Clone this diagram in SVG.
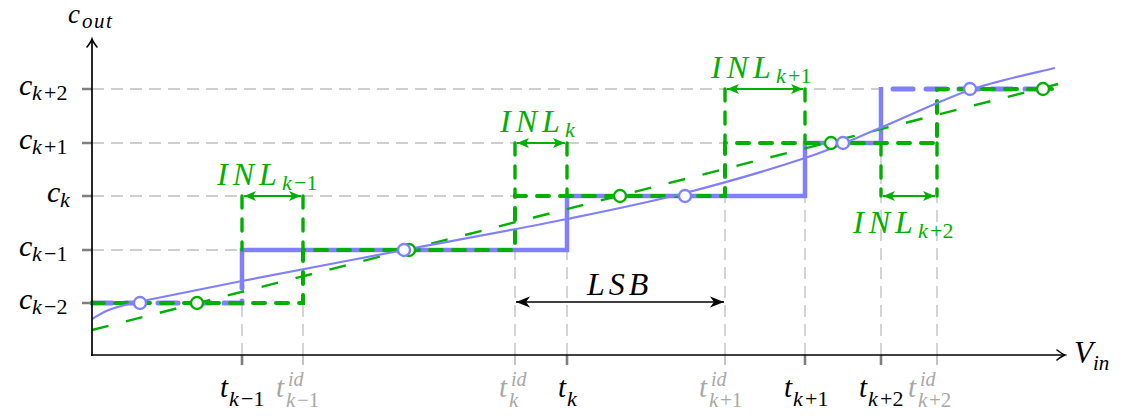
<svg xmlns="http://www.w3.org/2000/svg" width="1121" height="417" viewBox="0 0 1121 417">
<defs>
<marker id="axh" viewBox="-10 -7 12 14" refX="0" refY="0" markerWidth="12" markerHeight="14" orient="auto" markerUnits="userSpaceOnUse">
<path d="M-8,-5 Q-3,-1 0,0 Q-3,1 -8,5" fill="none" stroke="#000" stroke-width="1.6" stroke-linecap="round"/>
</marker>
<marker id="gah" viewBox="-13 -6 14 12" refX="0" refY="0" markerWidth="14" markerHeight="12" orient="auto-start-reverse" markerUnits="userSpaceOnUse">
<path d="M0,0 L-12,-5 L-9,0 L-12,5 Z" fill="#00b000"/>
</marker>
<marker id="kah" viewBox="-15 -7 16 14" refX="0" refY="0" markerWidth="16" markerHeight="14" orient="auto-start-reverse" markerUnits="userSpaceOnUse">
<path d="M0,0 L-14,-5.5 L-10,0 L-14,5.5 Z" fill="#000"/>
</marker>
</defs>
<rect width="1121" height="417" fill="#fff"/>

<g id="grid" stroke="#bfbfbf" stroke-width="1.3" stroke-dasharray="12 7" fill="none">
<path d="M92,89 H880 M92,143 H725 M92,196 H515 M92,250 H242"/>
<path d="M242,355 V303 M303,355 V303 M515,355 V250 M567,355 V250 M725,355 V196 M805,355 V196 M881,355 V143 M937,355 V196"/>
</g>

<g id="ticks">
<path stroke="#808080" stroke-width="2.6" d="M82,89 H92 M82,143 H92 M82,196 H92 M82,250 H92 M82,303 H92"/>
<path stroke="#808080" stroke-width="2.6" d="M242,355 V365 M567,355 V365 M805,355 V365 M881,355 V365"/>
<path stroke="#c4c4c4" stroke-width="2" d="M303,355 V365 M515,355 V365 M725,355 V365 M937,355 V365"/>
</g>

<g id="connectors" fill="none">
<g stroke="#8080ff" stroke-width="5" stroke-dasharray="20 13" stroke-linecap="round">
<path d="M92,303 H242 V286"/>
<path d="M893,89 H1057"/>
</g>
<path stroke="#8080ff" stroke-width="4.5" d="M242,285 V250 H567 V196 H805 V143 H881 V87"/>
<path stroke="#00b000" stroke-width="4" stroke-dasharray="12 11" stroke-linecap="round" d="M92,303 H303 V250 H515 V196 H725 V143 H937 V89 H1052"/>
<path stroke="#00b000" stroke-width="3.4" stroke-dasharray="12 11" stroke-linecap="round" d="M242,196 V250 M303,196 V250 M515,143 V196 M567,143 V196 M725,89 V143 M805,89 V143 M881,143 V196 M937,143 V196"/>
<path stroke="#00b000" stroke-width="2.4" stroke-dasharray="17 18" d="M92,330 L1062,83"/>
<path stroke="#8080ff" stroke-width="2.2" d="M92,319 C95,317.4 102,312.4 110,309.5 C118,306.6 118,306.25 140,301.5 C162,296.75 198,289.6 242,281 C286,272.4 349.8,260.3 404,250 C458.2,239.7 520.2,228.5 567,219 C613.8,209.5 645.3,203.2 685,193 C724.7,182.8 772.5,168.8 805,158 C837.5,147.2 852.5,139.3 880,128 C907.5,116.7 940.8,100 970,90 C999.2,80 1040.8,71.7 1055,68"/>
<g stroke="#00b000" stroke-width="2" marker-start="url(#gah)" marker-end="url(#gah)">
<path d="M244,196 H301"/>
<path d="M517,143 H565"/>
<path d="M727,89 H803"/>
<path d="M883,196 H935"/>
</g>
<path stroke="#000" stroke-width="1.5" d="M516,302 H724" marker-start="url(#kah)" marker-end="url(#kah)"/>
</g>

<g id="points" fill="#fff" stroke-width="2.4">
<g stroke="#00b000">
<circle cx="197" cy="303" r="6"/>
<circle cx="409" cy="250" r="6"/>
<circle cx="620" cy="196" r="6"/>
<circle cx="831" cy="143" r="6"/>
<circle cx="1043" cy="89" r="6"/>
</g>
<g stroke="#8080ff">
<circle cx="140" cy="303" r="6"/>
<circle cx="404" cy="250" r="6"/>
<circle cx="685" cy="196" r="6"/>
<circle cx="843" cy="143" r="6"/>
<circle cx="970" cy="89" r="6"/>
</g>
</g>

<g id="axes" stroke="#000" stroke-width="1.7" fill="none">
<path d="M92,356 V39" marker-end="url(#axh)"/>
<path d="M91,355 H1065" marker-end="url(#axh)"/>
</g>

<text x="68" y="23" font-size="27" font-family="Liberation Serif" font-style="italic">c</text>
<text x="82" y="28" font-size="21" font-family="Liberation Serif" font-style="italic" letter-spacing="1.5">out</text>
<text x="1074" y="363" font-size="31" font-family="Liberation Serif" font-style="italic">V</text>
<text x="1093" y="370" font-size="21" font-family="Liberation Serif" font-style="italic">in</text>

<text x="19" y="95" font-size="30" font-family="Liberation Serif" font-style="italic">c</text>
<text x="32" y="100" font-size="22" font-family="Liberation Serif" font-style="italic">k</text>
<text x="44" y="100" font-size="22" font-family="Liberation Serif">+2</text>
<text x="19" y="149" font-size="30" font-family="Liberation Serif" font-style="italic">c</text>
<text x="32" y="154" font-size="22" font-family="Liberation Serif" font-style="italic">k</text>
<text x="44" y="154" font-size="22" font-family="Liberation Serif">+1</text>
<text x="47" y="202" font-size="30" font-family="Liberation Serif" font-style="italic">c</text>
<text x="60" y="207" font-size="22" font-family="Liberation Serif" font-style="italic">k</text>
<text x="19" y="256" font-size="30" font-family="Liberation Serif" font-style="italic">c</text>
<text x="32" y="261" font-size="22" font-family="Liberation Serif" font-style="italic">k</text>
<text x="44" y="261" font-size="22" font-family="Liberation Serif">−1</text>
<text x="19" y="309" font-size="30" font-family="Liberation Serif" font-style="italic">c</text>
<text x="32" y="314" font-size="22" font-family="Liberation Serif" font-style="italic">k</text>
<text x="44" y="314" font-size="22" font-family="Liberation Serif">−2</text>

<text x="220" y="397" font-size="29" font-family="Liberation Serif" font-style="italic">t</text>
<text x="229" y="406" font-size="22" font-family="Liberation Serif" font-style="italic">k</text>
<text x="241" y="406" font-size="22" font-family="Liberation Serif">−1</text>
<text x="558" y="397" font-size="29" font-family="Liberation Serif" font-style="italic">t</text>
<text x="567" y="406" font-size="22" font-family="Liberation Serif" font-style="italic">k</text>
<text x="784" y="397" font-size="29" font-family="Liberation Serif" font-style="italic">t</text>
<text x="793" y="406" font-size="22" font-family="Liberation Serif" font-style="italic">k</text>
<text x="805" y="406" font-size="22" font-family="Liberation Serif">+1</text>
<text x="859" y="397" font-size="29" font-family="Liberation Serif" font-style="italic">t</text>
<text x="868" y="406" font-size="22" font-family="Liberation Serif" font-style="italic">k</text>
<text x="880" y="406" font-size="22" font-family="Liberation Serif">+2</text>

<text x="276" y="397" fill="#a8a8a8" font-size="29" font-family="Liberation Serif" font-style="italic">t</text>
<text x="288" y="386" fill="#a8a8a8" font-size="20" font-family="Liberation Serif" font-style="italic">id</text>
<text x="286" y="407" fill="#a8a8a8" font-size="21" font-family="Liberation Serif" font-style="italic">k</text>
<text x="297" y="407" fill="#a8a8a8" font-size="21" font-family="Liberation Serif">−1</text>
<text x="499" y="397" fill="#a8a8a8" font-size="29" font-family="Liberation Serif" font-style="italic">t</text>
<text x="511" y="386" fill="#a8a8a8" font-size="20" font-family="Liberation Serif" font-style="italic">id</text>
<text x="509" y="407" fill="#a8a8a8" font-size="21" font-family="Liberation Serif" font-style="italic">k</text>
<text x="699" y="397" fill="#a8a8a8" font-size="29" font-family="Liberation Serif" font-style="italic">t</text>
<text x="711" y="386" fill="#a8a8a8" font-size="20" font-family="Liberation Serif" font-style="italic">id</text>
<text x="709" y="407" fill="#a8a8a8" font-size="21" font-family="Liberation Serif" font-style="italic">k</text>
<text x="720" y="407" fill="#a8a8a8" font-size="21" font-family="Liberation Serif">+1</text>
<text x="908" y="397" fill="#a8a8a8" font-size="29" font-family="Liberation Serif" font-style="italic">t</text>
<text x="920" y="386" fill="#a8a8a8" font-size="20" font-family="Liberation Serif" font-style="italic">id</text>
<text x="918" y="407" fill="#a8a8a8" font-size="21" font-family="Liberation Serif" font-style="italic">k</text>
<text x="929" y="407" fill="#a8a8a8" font-size="21" font-family="Liberation Serif">+2</text>

<text x="217" y="185" fill="#00b000" font-size="32" font-family="Liberation Serif" font-style="italic" letter-spacing="5">INL</text>
<text x="282" y="190" fill="#00b000" font-size="22" font-family="Liberation Serif" font-style="italic">k</text>
<text x="294" y="190" fill="#00b000" font-size="22" font-family="Liberation Serif">−1</text>
<text x="500" y="132" fill="#00b000" font-size="32" font-family="Liberation Serif" font-style="italic" letter-spacing="5">INL</text>
<text x="565" y="137" fill="#00b000" font-size="22" font-family="Liberation Serif" font-style="italic">k</text>
<text x="711" y="78" fill="#00b000" font-size="32" font-family="Liberation Serif" font-style="italic" letter-spacing="5">INL</text>
<text x="776" y="83" fill="#00b000" font-size="22" font-family="Liberation Serif" font-style="italic">k</text>
<text x="788" y="83" fill="#00b000" font-size="22" font-family="Liberation Serif">+1</text>
<text x="853" y="233" fill="#00b000" font-size="32" font-family="Liberation Serif" font-style="italic" letter-spacing="5">INL</text>
<text x="918" y="238" fill="#00b000" font-size="22" font-family="Liberation Serif" font-style="italic">k</text>
<text x="930" y="238" fill="#00b000" font-size="22" font-family="Liberation Serif">+2</text>
<text x="587" y="295" font-size="32" font-family="Liberation Serif" font-style="italic" letter-spacing="4">LSB</text>
</svg>
